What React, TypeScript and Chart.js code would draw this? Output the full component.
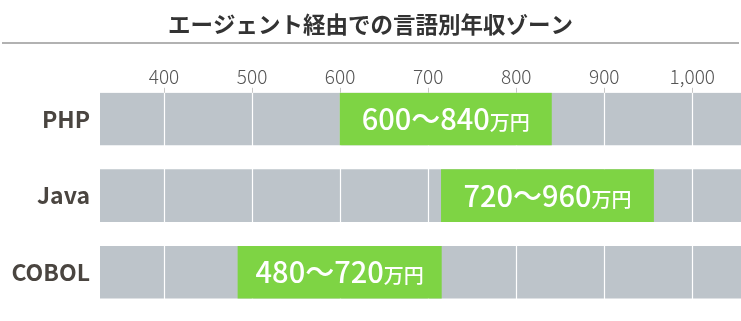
import React, { useEffect, useRef } from "react";
import { Chart, registerables } from "chart.js";

Chart.register(...registerables);

const chartTitle = "エージェント経由での言語別年収ゾーン";
const categories = ["PHP", "Java", "COBOL"];
const rangeLow = [600, 715, 484];
const rangeHigh = [840, 956, 715];
const rangeLabels = ["600〜840", "720〜960", "480〜720"];
const unitLabel = "万円";
const tickValues = [400, 500, 600, 700, 800, 900, 1000];
const axisMin = 327.3;
const axisMax = 1055.3;

const FONT = '"Noto Sans CJK JP", "Noto Sans", sans-serif';
const GRAY = "#bdc4ca";
const GREEN = "#7ed444";

const whiteGrid = {
  id: "whiteGrid",
  afterDatasetDraw(chart: any, args: any) {
    if (args.index !== 0) return;
    const xs = chart.scales.x;
    const { top, bottom } = chart.chartArea;
    const ctx = chart.ctx;
    ctx.save();
    ctx.strokeStyle = "#ffffff";
    ctx.lineWidth = 1.2;
    ctx.beginPath();
    xs.ticks.forEach((t: any) => {
      const x = Math.round(xs.getPixelForValue(t.value)) + 0.5;
      ctx.moveTo(x, top);
      ctx.lineTo(x, bottom);
    });
    ctx.stroke();
    ctx.restore();
  },
};

const rangeText = {
  id: "rangeText",
  afterDatasetsDraw(chart: any) {
    const meta = chart.getDatasetMeta(1);
    const ctx = chart.ctx;
    ctx.save();
    ctx.fillStyle = "#ffffff";
    ctx.textBaseline = "alphabetic";
    ctx.textAlign = "left";
    meta.data.forEach((bar: any, i: number) => {
      const cx = (bar.x + bar.base) / 2;
      const cy = bar.y;
      const mainFont = `500 29px ${FONT}`;
      const subFont = `500 20px ${FONT}`;
      ctx.font = mainFont;
      const w1 = ctx.measureText(rangeLabels[i]).width;
      ctx.font = subFont;
      const w2 = ctx.measureText(unitLabel).width;
      const sx = cx - (w1 + w2) / 2;
      ctx.font = mainFont;
      ctx.fillText(rangeLabels[i], sx, cy + 11);
      ctx.font = subFont;
      ctx.fillText(unitLabel, sx + w1, cy + 11);
    });
    ctx.restore();
  },
};

const titleRule = {
  id: "titleRule",
  afterDraw(chart: any) {
    const ctx = chart.ctx;
    ctx.save();
    ctx.strokeStyle = "#999999";
    ctx.lineWidth = 1.5;
    ctx.beginPath();
    ctx.moveTo(2, 43);
    ctx.lineTo(739, 43);
    ctx.stroke();
    ctx.restore();
  },
};

export default function App() {
  const ref = useRef<HTMLCanvasElement | null>(null);

  useEffect(() => {
    document.body.style.margin = "0";
    const canvas = ref.current;
    if (!canvas) return;
    const chart = new Chart(canvas, {
      type: "bar",
      data: {
        labels: categories.map((_, i) => i),
        datasets: [
          {
            label: "range",
            data: categories.map((_, i) => ({ x: [axisMin, axisMax], y: i })) as any,
            backgroundColor: GRAY,
            barThickness: 52,
            grouped: false,
            order: 2,
          },
          {
            label: "zone",
            data: categories.map((_, i) => ({ x: [rangeLow[i], rangeHigh[i]], y: i })) as any,
            backgroundColor: GREEN,
            barThickness: 52,
            grouped: false,
            order: 1,
          },
        ],
      },
      options: {
        indexAxis: "y",
        responsive: false,
        animation: false,
        layout: { padding: { left: 0, right: 0, top: 0, bottom: 0 } },
        plugins: {
          legend: { display: false },
          tooltip: { enabled: false },
          title: {
            display: true,
            text: chartTitle,
            color: "#333333",
            font: { family: FONT, size: 22.5, weight: "bold" as any, lineHeight: 1.2 },
            padding: { top: 11, bottom: 27 },
          },
        },
        scales: {
          x: {
            type: "linear",
            position: "top",
            min: axisMin,
            max: axisMax,
            afterBuildTicks: (scale: any) => {
              scale.ticks = tickValues.map((v) => ({ value: v }));
            },
            afterFit: (scale: any) => {
              scale.paddingLeft = 0;
              scale.paddingRight = 0;
            },
            ticks: {
              color: "#555555",
              padding: 0,
              font: { family: FONT, size: 19, weight: "300" as any, lineHeight: 1.2 },
              callback: (v: any) => Number(v).toLocaleString("en-US"),
            },
            grid: {
              display: true,
              drawOnChartArea: false,
              drawTicks: true,
              tickLength: 5,
              color: "#c8c8c8",
              lineWidth: 1,
            },
            border: { display: false },
          },
          y: {
            type: "linear",
            reverse: true,
            offset: false,
            min: -0.34,
            max: 2.635,
            afterBuildTicks: (scale: any) => {
              scale.ticks = categories.map((_, i) => ({ value: i }));
            },
            afterFit: (scale: any) => {
              scale.width = 100;
              scale.paddingTop = 0;
              scale.paddingBottom = 0;
            },
            ticks: {
              color: "#4a4540",
              padding: 10,
              font: { family: FONT, size: 23, weight: "bold" as any },
              callback: (v: any) => categories[v] ?? "",
            },
            grid: { display: false, drawTicks: false, tickLength: 0, offset: false },
            border: { display: false },
          },
        },
      },
      plugins: [whiteGrid, rangeText, titleRule],
    } as any);
    return () => chart.destroy();
  }, []);

  return (
    <div style={{ width: 741, height: 321 }}>
      <canvas ref={ref} width={741} height={321} />
    </div>
  );
}
